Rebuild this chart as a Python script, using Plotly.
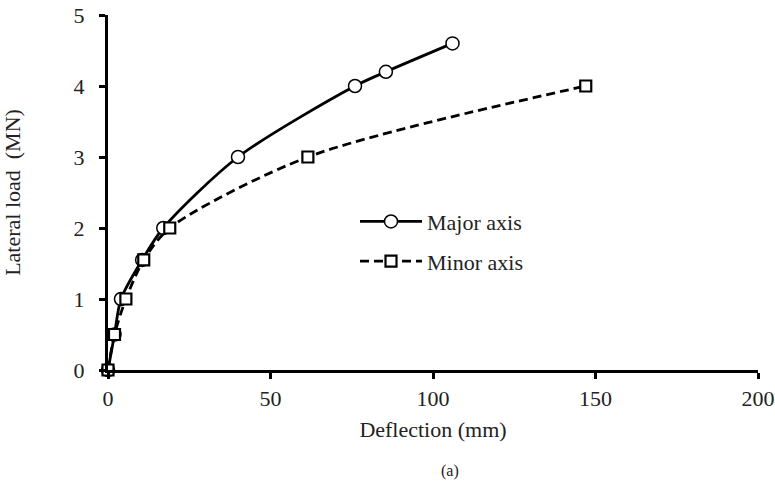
import plotly.graph_objects as go

major_x = [0, 2, 4, 10.5, 17, 40, 76, 85.5, 106]
major_y = [0, 0.5, 1, 1.55, 2, 3, 4, 4.2, 4.6]
minor_x = [0, 2, 5.5, 11, 19, 61.5, 147]
minor_y = [0, 0.5, 1, 1.55, 2, 3, 4]

FONT = "Liberation Serif, Times New Roman, serif"

fig = go.Figure()
fig.add_trace(go.Scatter(
    x=major_x, y=major_y, name="Major axis", mode="lines+markers",
    line=dict(color="black", width=2.8, shape="spline", smoothing=0.8),
    marker=dict(symbol="circle", size=13, color="white", line=dict(color="black", width=1.5)),
    legendgroup="a"))
fig.add_trace(go.Scatter(
    x=minor_x, y=minor_y, name="Minor axis", mode="lines+markers",
    line=dict(color="black", width=2.8, dash="9px,5px", shape="spline", smoothing=0.8),
    marker=dict(symbol="square", size=11, color="white", line=dict(color="black", width=2.2)),
    legendgroup="b"))

fig.update_layout(
    width=775, height=489,
    margin=dict(l=108, r=17, t=15, b=119),
    paper_bgcolor="white", plot_bgcolor="white",
    font=dict(family=FONT, size=22, color="#222"),
    legend=dict(x=0.38, y=0.477, xanchor="left", yanchor="top",
                bgcolor="rgba(0,0,0,0)", font=dict(size=22, family=FONT),
                tracegroupgap=8, traceorder="grouped", itemwidth=62),
    xaxis=dict(range=[0, 200], tickvals=[0, 50, 100, 150, 200], automargin=False,
               showline=True, linecolor="black", linewidth=3, showgrid=False,
               zeroline=False, ticks="outside", ticklen=6, tickwidth=3, tickcolor="black",
               tickfont=dict(size=22), ticklabelstandoff=1,
               title=dict(text="Deflection (mm)", font=dict(size=22), standoff=12)),
    yaxis=dict(range=[0, 5], tickvals=[0, 1, 2, 3, 4, 5], automargin=False,
               showline=True, linecolor="black", linewidth=3, showgrid=False,
               zeroline=False, ticks="outside", ticklen=6, tickwidth=3, tickcolor="black",
               tickfont=dict(size=22), ticklabelstandoff=10,
               title=dict(text="Lateral load\u00a0 (MN)", font=dict(size=22), standoff=50)),
    annotations=[dict(text="(a)", x=0.526, y=-0.285, xref="paper", yref="paper",
                      xanchor="center", yanchor="middle",
                      showarrow=False, font=dict(size=16, family=FONT))],
)
fig.update_traces(cliponaxis=False)

fig.write_html("out.html")
